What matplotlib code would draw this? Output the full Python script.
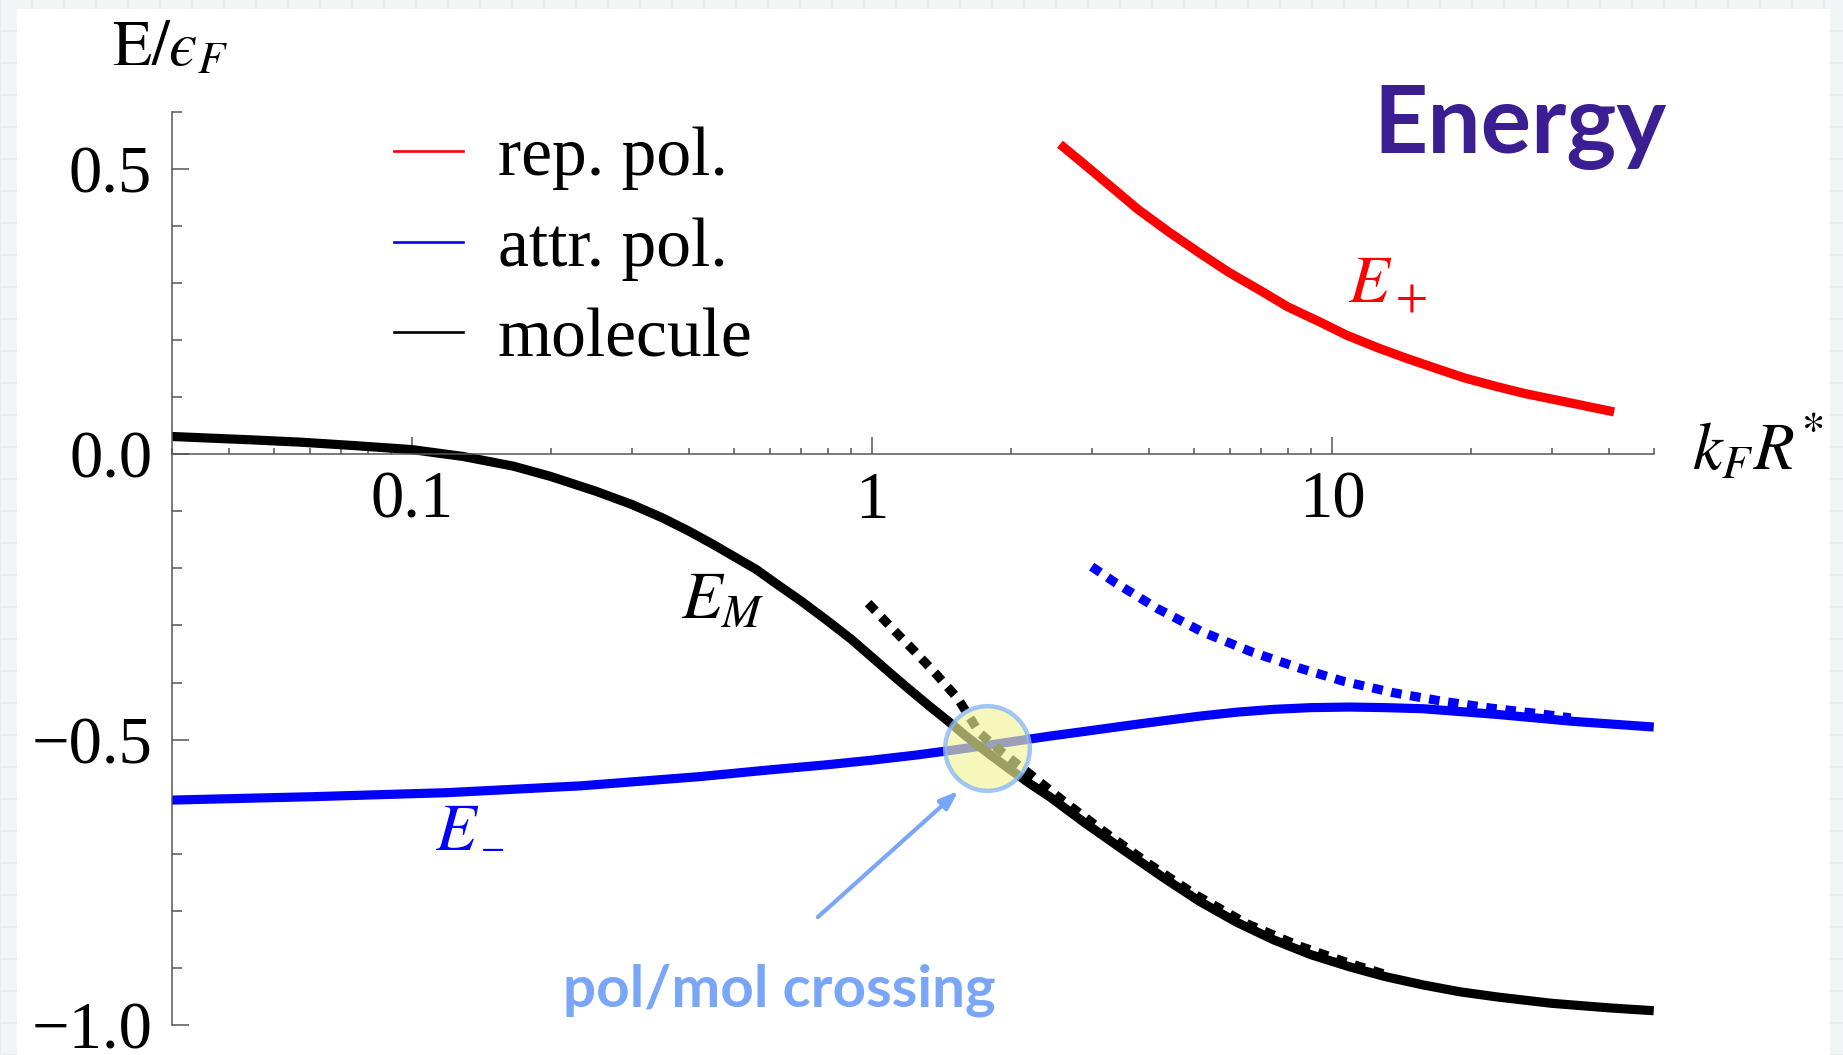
"""Polaron / molecule energies vs k_F R* (log scale), with the pol/mol crossing marked."""

import matplotlib

matplotlib.use("Agg")
import matplotlib.pyplot as plt
from matplotlib.lines import Line2D
from matplotlib.patches import Rectangle
from matplotlib.ticker import FixedLocator, LogLocator, NullFormatter, MultipleLocator

plt.rcParams["font.family"] = ["Liberation Serif", "DejaVu Serif"]
plt.rcParams["mathtext.fontset"] = "stix"

# repulsive polaron E_+
K_REP = [2.56, 2.86, 3.29, 3.78, 4.42, 5.18, 5.95, 6.97, 8.01, 9.38, 10.78, 12.6, 14.5,
         17.0, 19.5, 22.9, 26.3, 32.0, 41.0]
E_REP = [0.543, 0.511, 0.470, 0.429, 0.389, 0.351, 0.319, 0.287, 0.258, 0.232, 0.208,
         0.186, 0.168, 0.149, 0.133, 0.118, 0.106, 0.092, 0.074]

# attractive polaron E_-
K_ATT = [0.03, 0.061, 0.119, 0.233, 0.42, 0.6, 0.8, 1.0, 1.25, 1.48, 1.71, 2.0, 2.43,
         3.0, 3.54, 4.3, 5.14, 6.2, 7.47, 9.0, 10.9, 13.0, 15.8, 22.9, 33.3, 50.0]
E_ATT = [-0.606, -0.600, -0.593, -0.581, -0.565, -0.553, -0.544, -0.536, -0.527, -0.519,
         -0.512, -0.504, -0.494, -0.484, -0.476, -0.467, -0.459, -0.452, -0.447, -0.444,
         -0.443, -0.444, -0.446, -0.456, -0.468, -0.478]

# attractive polaron, large-R* asymptote (dotted)
K_ATT_ASY = [3.0, 3.39, 4.16, 5.21, 6.66, 8.51, 10.6, 13.6, 17.4, 22.2, 28.4, 33.0]
E_ATT_ASY = [-0.197, -0.226, -0.270, -0.311, -0.346, -0.375, -0.398, -0.418, -0.433,
             -0.445, -0.455, -0.462]

# molecule E_M
K_MOL = [0.03, 0.045, 0.0573, 0.075, 0.1, 0.129, 0.166, 0.2, 0.251, 0.3, 0.351, 0.4,
         0.451, 0.5, 0.56, 0.629, 0.7, 0.8, 0.9, 1.0, 1.1, 1.2, 1.33, 1.48, 1.6, 1.71,
         1.85, 2.0, 2.2, 2.43, 2.9, 3.54, 4.3, 5.14, 6.2, 7.47, 9.0, 10.9, 13.0, 15.8,
         19.0, 22.9, 30.0, 40.0, 50.0]
E_MOL = [0.031, 0.025, 0.021, 0.015, 0.008, -0.004, -0.021, -0.039, -0.065, -0.088,
         -0.112, -0.135, -0.158, -0.179, -0.202, -0.231, -0.257, -0.292, -0.324, -0.356,
         -0.385, -0.411, -0.441, -0.471, -0.494, -0.512, -0.533, -0.553, -0.577, -0.600,
         -0.646, -0.695, -0.742, -0.783, -0.820, -0.851, -0.877, -0.898, -0.915, -0.930,
         -0.942, -0.951, -0.962, -0.970, -0.975]

# molecule, large-R* asymptote (dotted)
K_MOL_ASY = [0.98, 1.114, 1.239, 1.38, 1.535, 1.71, 1.9, 2.2, 2.6, 3.2, 4.0, 5.0, 6.5,
             8.5, 11.0, 13.0]
E_MOL_ASY = [-0.261, -0.308, -0.346, -0.386, -0.428, -0.488, -0.520, -0.560, -0.607,
             -0.662, -0.718, -0.770, -0.822, -0.862, -0.893, -0.911]

CROSSING = (1.78, -0.514)
ARROW_TAIL = (0.762, -0.811)
ARROW_HEAD = (1.54, -0.590)

LEGEND_LABELS = ["rep. pol.", "attr. pol.", "molecule"]

RED, BLUE, BLACK = "#ff0000", "#0000ff", "#000000"
LIGHT_BLUE = "#7aa6f7"
PURPLE = "#3a1e92"
HAND = ["Liberation Sans Narrow", "DejaVu Sans Condensed", "Lato", "DejaVu Sans"]


def main() -> None:
    fig = plt.figure(figsize=(18.43, 10.55), dpi=100, facecolor="#f2f5f5")

    # notebook-style backdrop with a white sheet on top
    for x in range(0, 1843, 32):
        fig.add_artist(Line2D([x / 1843, x / 1843], [0, 1], color="#e2ebeb", lw=1.2,
                              transform=fig.transFigure, zorder=-2))
    for y in range(0, 1055, 32):
        fig.add_artist(Line2D([0, 1], [y / 1055, y / 1055], color="#e2ebeb", lw=1.2,
                              transform=fig.transFigure, zorder=-2))
    fig.add_artist(Rectangle((17 / 1843, 0), (1830 - 17) / 1843, 1 - 9 / 1055,
                             transform=fig.transFigure, facecolor="white",
                             edgecolor="none", zorder=-1))

    ax = fig.add_axes([0.0931, 0.02844, 0.8042, 0.8657])
    ax.set_zorder(2)
    ax.set_facecolor("none")
    ax.set_xscale("log")
    ax.set_xlim(0.03, 50)
    ax.set_ylim(-1.0, 0.6)

    lw = 6.6
    dots = (0, (1.15, 0.95))
    ax.plot(K_REP, E_REP, color=RED, lw=lw, solid_capstyle="butt", solid_joinstyle="round")
    ax.plot(K_ATT_ASY, E_ATT_ASY, color=BLUE, lw=lw, ls=dots, dash_capstyle="butt")
    ax.plot(K_ATT, E_ATT, color=BLUE, lw=lw, solid_capstyle="butt", solid_joinstyle="round")
    ax.plot(K_MOL_ASY, E_MOL_ASY, color=BLACK, lw=lw, ls=dots, dash_capstyle="butt")
    ax.plot(K_MOL, E_MOL, color=BLACK, lw=lw, solid_capstyle="butt", solid_joinstyle="round")

    # crossing marker + arrow
    ax.plot([CROSSING[0]], [CROSSING[1]], "o", ms=61,
            mfc=(0.94, 0.96, 0.59, 0.65), mec=(0.55, 0.72, 0.97, 0.8), mew=3.2, zorder=5)
    ax.annotate("", xy=ARROW_HEAD, xytext=ARROW_TAIL,
                arrowprops=dict(arrowstyle="-|>,head_length=1.1,head_width=0.4",
                                color=LIGHT_BLUE, lw=3, shrinkA=0, shrinkB=0))

    # curve labels
    ax.text(0.473, -0.258, r"$E_M$", fontsize=48, ha="center", va="center")
    ax.text(13.2, 0.297, r"$E_+$", fontsize=48, color=RED, ha="center", va="center")
    ax.text(0.125, -0.665, r"$E$", fontsize=48, color=BLUE, ha="center", va="center")
    ax.text(0.1496, -0.700, "\u2212", fontsize=31, color=BLUE, ha="center", va="center")
    ax.text(0.627, -0.939, "pol/mol crossing", fontsize=42, color=LIGHT_BLUE,
            family=HAND, fontweight="bold", ha="center", va="center")
    ax.text(0.825, 0.88, "Energy", transform=fig.transFigure, fontsize=68, color=PURPLE,
            family=HAND, fontweight="bold", ha="center", va="center")

    # axes styling: x axis through E = 0, y axis on the left edge
    for side in ("top", "right"):
        ax.spines[side].set_visible(False)
    ax.spines["bottom"].set_position(("data", 0))
    for side in ("bottom", "left"):
        ax.spines[side].set_color("#555555")
        ax.spines[side].set_linewidth(1.1)

    ax.xaxis.set_major_locator(FixedLocator([0.1, 1, 10]))
    ax.set_xticklabels(["0.1", "1", "10"])
    ax.xaxis.set_minor_locator(LogLocator(base=10, subs=range(2, 10), numticks=20))
    ax.xaxis.set_minor_formatter(NullFormatter())
    ax.yaxis.set_major_locator(FixedLocator([-1.0, -0.5, 0.0, 0.5]))
    ax.set_yticklabels(["\u22121.0", "\u22120.5", "0.0", "0.5"])
    ax.yaxis.set_minor_locator(MultipleLocator(0.1))

    ax.tick_params(axis="both", which="both", direction="in", color="#555555", width=1.1,
                   labelsize=48)
    ax.tick_params(axis="x", which="major", length=12, pad=12)
    ax.tick_params(axis="x", which="minor", length=4.3)
    ax.tick_params(axis="y", which="major", length=12, pad=14)
    ax.tick_params(axis="y", which="minor", length=7.5)

    fig.text(170 / 1843, 1 - 66 / 1055, "$\\mathrm{E}/\u03f5_F$", fontsize=46,
             ha="center", va="baseline")
    fig.text(1758 / 1843, 1 - 470 / 1055, r"$k_F R^{*}$", fontsize=48,
             ha="center", va="baseline")

    handles = [Line2D([], [], color=c, lw=1.9) for c in (RED, BLUE, BLACK)]
    ax.legend(handles, LEGEND_LABELS, loc="upper left",
              bbox_to_anchor=(359 / 1843, 1 - 92 / 1055), bbox_transform=fig.transFigure,
              frameon=False, fontsize=50, handlelength=1.0, handletextpad=0.5,
              labelspacing=0.39, borderpad=0.0)

    fig.savefig("out.png", dpi=100, facecolor=fig.get_facecolor())


if __name__ == "__main__":
    main()
